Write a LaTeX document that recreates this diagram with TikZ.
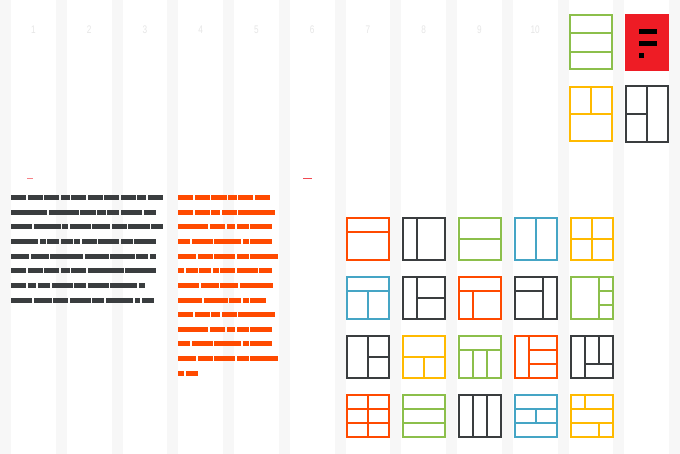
\documentclass[tikz,border=0pt]{standalone}
\usepackage{fontspec}
\setmainfont{Liberation Sans}
\usepackage{tikz}

\definecolor{pagegrey}{HTML}{F7F7F7}
\definecolor{numgrey}{HTML}{E6E6E6}
\definecolor{inkdark}{HTML}{3A3D3F}
\definecolor{inkorange}{HTML}{FF4A00}
\definecolor{inkgreen}{HTML}{8CBF4B}
\definecolor{inkblue}{HTML}{45A5C5}
\definecolor{inkyellow}{HTML}{FFBA00}
\definecolor{inkred}{HTML}{EE1C25}

\tikzset{
	panel/.style={line width=2pt, x=42pt, y=-42pt},
	colnum/.style={text=numgrey, font=\fontsize{11}{11}\selectfont, transform shape, xscale=.75, inner sep=0pt}
}
% one framed layout: options, top left corner, inner lines
\newcommand{\panelbox}[3]{\draw[shift={(#2)}, panel, #1] (0,0) rectangle (1,1) #3;}
% one line of blocked-out words: y, then start/end pairs in thirds of a unit
\newcommand{\wordrow}[2]{\foreach \a/\b in {#2} \fill (\a/3,#1-2.5) rectangle (\b/3,#1+2.5);}

\begin{document}
\begin{tikzpicture}[x=1pt, y=-1pt]
\fill[pagegrey] (0,0) rectangle (680,454);
\foreach \c in {0,...,11}
	\fill[white] ({11+55.75*\c},0) rectangle +(44.75,454);
\foreach \c in {1,...,10}
	\node[colnum] (num\c) at ({33.4+55.75*(\c-1)},30) {\c};

\fill[inkred!55] (27,178) rectangle (33,179);
\fill[inkred!80] (303,178) rectangle (312,179);

% dark column of words
\begin{scope}[inkdark]
\wordrow{197.5}{32/78,83/128,132/178,183/209,213/258,264/308,312/358,363/408,411/438,443/488}
\wordrow{212.5}{32/141,146/238,241/287,291/318,322/358,362/427,431/467}
\wordrow{226.5}{32/97,101/183,187/205,210/273,277/331,336/381,385/449,453/490}
\wordrow{241.5}{32/114,119/137,141/177,182/218,223/240,245/290,294/358,363/399,403/467}
\wordrow{256.5}{32/87,92/147,150/250,255/327,331/404,408/444,449/467}
\wordrow{270.5}{32/78,83/128,132/178,183/209,213/258,264/372,376/467}
\wordrow{285.5}{32/78,83/109,114/150,155/218,222/258,263/327,331/412,417/435}
\wordrow{300.5}{32/97,101/155,159/205,210/273,277/313,318/399,404/421,426/463}
\end{scope}

% orange column of words
\begin{scope}[inkorange, shift={(170,0)}]
\wordrow{197.5}{24/70,75/120,124/170,174/200,204/250,255/300}
\wordrow{212.5}{24/70,75/120,124/151,156/200,204/314}
\wordrow{226.5}{24/115,119/165,170/196,201/237,241/305}
\wordrow{241.5}{24/60,65/128,133/214,219/237,241/305}
\wordrow{256.5}{24/78,84/128,133/196,201/237,241/323}
\wordrow{270.5}{24/42,47/83,88/123,129/146,151/196,201/264,268/305}
\wordrow{285.5}{24/87,92/147,151/205,210/310}
\wordrow{300.5}{24/97,102/173,178/214,219/237,241/287}
\wordrow{314.5}{24/70,75/120,124/151,156/200,204/314}
\wordrow{329.5}{24/115,119/165,170/196,201/237,241/305}
\wordrow{343.5}{24/60,65/128,133/214,219/237,241/305}
\wordrow{358.5}{24/78,84/128,133/196,201/237,241/323}
\wordrow{373.5}{24/42,47/83}
\end{scope}

% top right corner
\panelbox{draw=inkgreen, y=-54pt}{570,15}{(0,1/3) -- (1,1/3) (0,.685) -- (1,.685)}
\panelbox{draw=inkyellow, y=-54pt}{570,87}{(0,.5) -- (1,.5) (.5,0) -- (.5,.5)}
\panelbox{draw=inkdark, y=-56pt}{626,86}{(.5,0) -- (.5,1) (0,.5) -- (.5,.5)}

\fill[inkred] (625,14) rectangle (669,71);
\fill[black] (639,29) rectangle (657,34);
\fill[black] (639,41) rectangle (657,46);
\fill[black] (639,53) rectangle (644,58);

% first row
\panelbox{draw=inkorange}{347,218}{(0,1/3) -- (1,1/3)}
\panelbox{draw=inkdark}{403,218}{(1/3,0) -- (1/3,1)}
\panelbox{draw=inkgreen}{459,218}{(0,.5) -- (1,.5)}
\panelbox{draw=inkblue}{515,218}{(.5,0) -- (.5,1)}
\panelbox{draw=inkyellow}{571,218}{(.5,0) -- (.5,1) (0,.5) -- (1,.5)}

% second row
\panelbox{draw=inkblue}{347,277}{(0,1/3) -- (1,1/3) (.5,1/3) -- (.5,1)}
\panelbox{draw=inkdark}{403,277}{(1/3,0) -- (1/3,1) (1/3,.5) -- (1,.5)}
\panelbox{draw=inkorange}{459,277}{(0,1/3) -- (1,1/3) (1/3,1/3) -- (1/3,1)}
\panelbox{draw=inkdark}{515,277}{(2/3,0) -- (2/3,1) (0,1/3) -- (2/3,1/3)}
\panelbox{draw=inkgreen}{571,277}{(2/3,0) -- (2/3,1) (2/3,1/3) -- (1,1/3) (2/3,2/3) -- (1,2/3)}

% third row
\panelbox{draw=inkdark}{347,336}{(.5,0) -- (.5,1) (.5,.5) -- (1,.5)}
\panelbox{draw=inkyellow}{403,336}{(0,.5) -- (1,.5) (.5,.5) -- (.5,1)}
\panelbox{draw=inkgreen}{459,336}{(0,1/3) -- (1,1/3) (1/3,1/3) -- (1/3,1) (2/3,1/3) -- (2/3,1)}
\panelbox{draw=inkorange}{515,336}{(1/3,0) -- (1/3,1) (1/3,1/3) -- (1,1/3) (1/3,2/3) -- (1,2/3)}
\panelbox{draw=inkdark}{571,336}{(1/3,0) -- (1/3,1) (1/3,2/3) -- (1,2/3) (2/3,0) -- (2/3,2/3)}

% last row
\panelbox{draw=inkorange}{347,395}{(.5,0) -- (.5,1) (0,1/3) -- (1,1/3) (0,2/3) -- (1,2/3)}
\panelbox{draw=inkgreen}{403,395}{(0,1/3) -- (1,1/3) (0,2/3) -- (1,2/3)}
\panelbox{draw=inkdark}{459,395}{(1/3,0) -- (1/3,1) (2/3,0) -- (2/3,1)}
\panelbox{draw=inkblue}{515,395}{(0,1/3) -- (1,1/3) (0,2/3) -- (1,2/3) (.5,1/3) -- (.5,2/3)}
\panelbox{draw=inkyellow}{571,395}{(0,1/3) -- (1,1/3) (0,2/3) -- (1,2/3) (1/3,0) -- (1/3,1/3) (2/3,2/3) -- (2/3,1)}
\end{tikzpicture}
\end{document}
